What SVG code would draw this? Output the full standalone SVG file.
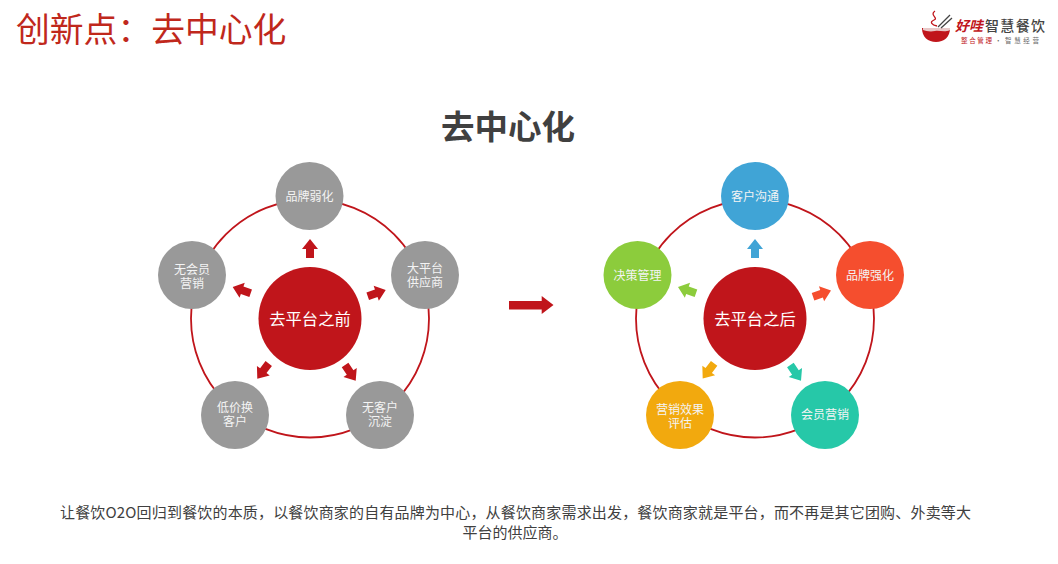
<svg xmlns="http://www.w3.org/2000/svg" width="1058" height="564" viewBox="0 0 1058 564">
<style>
text{font-family:"Noto Sans CJK SC","Liberation Sans",sans-serif}
.ring{fill:none;stroke:#c0151b;stroke-width:1.8}
.n{font-size:12px;fill:#f4f4f4;text-anchor:middle}
.c{font-size:16.3px;fill:#fff;text-anchor:middle}
.hub{fill:#c0151b}
.g{fill:#999}
.body{font-size:15px;fill:#404040}
</style>
<defs><path id="a" d="M0 0L8 10H4V19H-4V10H-8Z"/></defs>
<rect width="1058" height="564" fill="#fff"/>
<text x="16" y="42" font-size="33.8" fill="#c0281c">创新点：去中心化</text>
<g id="logo">
<path d="M922 28H950C950 37 944 42 936 42C928 42 922 37 922 28Z" fill="#c0151b"/>
<path d="M923 28H950V30C944 33 940 30 935 31C930 32 926 31 923 30Z" fill="#e8c8c8"/>
<path d="M935 11C929 15 939 18 934 20C929 22 932 25 937 26" fill="none" stroke="#c0151b" stroke-width="1.3"/>
<path d="M938 27L950 15M941 28L952 18" stroke="#444" stroke-width="1.3" fill="none"/>
<text x="955" y="30.5" font-size="14" font-weight="700" font-style="italic" fill="#c0151b" textLength="28">好哇</text>
<text x="985" y="30.5" font-size="14" font-weight="500" fill="#444" textLength="60">智慧餐饮</text>
<text x="961" y="43" font-size="6.5" fill="#c0151b" textLength="31">整合管理</text>
<text x="995" y="43" font-size="6.5" fill="#666">·</text>
<text x="1005" y="43" font-size="6.5" fill="#666" textLength="34">智慧经营</text>
</g>
<text x="508" y="139" font-size="33.5" font-weight="700" fill="#404040" text-anchor="middle">去中心化</text>
<g id="connectors">
<circle class="ring" cx="310" cy="318.5" r="119"/>
<circle class="ring" cx="755" cy="318.5" r="119"/>
<g fill="#c0151b">
<use href="#a" transform="translate(310 239)"/>
<use href="#a" transform="translate(385.7 290) rotate(71)"/>
<use href="#a" transform="translate(232.7 287) rotate(-71)"/>
<use href="#a" transform="translate(355.7 380.7) rotate(146)"/>
<use href="#a" transform="translate(257.3 378.7) rotate(-143)"/>
</g>
<use href="#a" fill="#40a4d6" transform="translate(755 239)"/>
<use href="#a" fill="#f54e2e" transform="translate(831 290.5) rotate(71)"/>
<use href="#a" fill="#8ccc3c" transform="translate(678 287) rotate(-71)"/>
<use href="#a" fill="#26c8a8" transform="translate(801 380.7) rotate(146)"/>
<use href="#a" fill="#f2a90e" transform="translate(702.7 378.5) rotate(-143)"/>
<path id="main-arrow" d="M509 301H541.7V296L553.5 305L541.7 314V309.5H509Z" fill="#c0151b"/>
</g>
<g id="hub-before"><circle class="hub" cx="310" cy="318.5" r="51.5"/><text class="c" x="310" y="325">去平台之前</text></g>
<g id="n1"><circle class="g" cx="309.5" cy="196" r="34"/><text class="n" x="309.5" y="201">品牌弱化</text></g>
<g id="n2"><circle class="g" cx="425" cy="275" r="34"/><text class="n"><tspan x="425" y="273">大平台</tspan><tspan x="425" y="287">供应商</tspan></text></g>
<g id="n3"><circle class="g" cx="380" cy="415" r="34"/><text class="n"><tspan x="380" y="412">无客户</tspan><tspan x="380" y="426">沉淀</tspan></text></g>
<g id="n4"><circle class="g" cx="235" cy="415" r="34"/><text class="n"><tspan x="235" y="412">低价换</tspan><tspan x="235" y="426">客户</tspan></text></g>
<g id="n5"><circle class="g" cx="192" cy="275" r="34"/><text class="n"><tspan x="192" y="274">无会员</tspan><tspan x="192" y="288">营销</tspan></text></g>
<g id="hub-after"><circle class="hub" cx="755" cy="318.5" r="51.5"/><text class="c" x="755" y="325">去平台之后</text></g>
<g id="m1"><circle fill="#40a4d6" cx="755" cy="196" r="34"/><text class="n" x="755" y="201">客户沟通</text></g>
<g id="m2"><circle fill="#f54e2e" cx="870" cy="275" r="34"/><text class="n" x="870" y="280">品牌强化</text></g>
<g id="m3"><circle fill="#26c8a8" cx="825" cy="415" r="34"/><text class="n" x="825" y="419">会员营销</text></g>
<g id="m4"><circle fill="#f2a90e" cx="680" cy="415" r="34"/><text class="n"><tspan x="680" y="414">营销效果</tspan><tspan x="680" y="428">评估</tspan></text></g>
<g id="m5"><circle fill="#8ccc3c" cx="637.5" cy="275" r="34"/><text class="n" x="637.5" y="280">决策管理</text></g>
<text class="body" x="60" y="518" textLength="911">让餐饮O2O回归到餐饮的本质，以餐饮商家的自有品牌为中心，从餐饮商家需求出发，餐饮商家就是平台，而不再是其它团购、外卖等大</text>
<text class="body" x="515" y="538" text-anchor="middle">平台的供应商。</text>
</svg>
